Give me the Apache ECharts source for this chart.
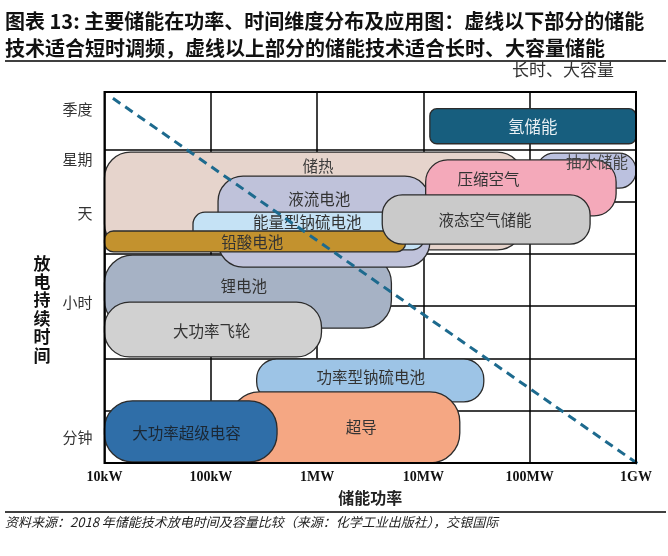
<!DOCTYPE html>
<html>
<head>
<meta charset="utf-8">
<script src="https://cdn.jsdelivr.net/npm/echarts@6/dist/echarts.min.js"></script>
<style>
  html, body { margin: 0; padding: 0; background: #fff; }
  #main { width: 668px; height: 556px; }
</style>
</head>
<body>
<div id="main"></div>
<script>
// power axis (W)
var powerTicks = [1e4, 1e5, 1e6, 1e7, 1e8, 1e9];
var powerLabels = ['10kW', '100kW', '1MW', '10MW', '100MW', '1GW'];

// duration axis: row boundaries and the label marks
var durationRows = [1, 2, 3, 4, 5, 6];
var durationLabels = ['分钟', '小时', '天', '星期', '季度'];
var durationLabelPos = [0.5, 3.08, 4.78, 5.82, 6.76];

// technologies, back to front
var techNames = ['储热', '锂电池', '液流电池', '能量型钠硫电池', '铅酸电池', '抽水储能', '压缩空气',
  '液态空气储能', '氢储能', '大功率飞轮', '功率型钠硫电池', '超导', '大功率超级电容'];
var powerMin = [1e4, 1e4, 1.17e5, 6.8e4, 1e4, 1.17e8, 1.05e7, 4.1e6, 1.15e7, 1e4, 2.7e5, 1.5e5, 1e4];
var powerMax = [8.7e7, 5.0e6, 1.15e7, 1.02e7, 6.8e6, 1e9, 6.5e8, 3.7e8, 1e9, 1.1e6, 3.7e7, 2.2e7, 4.2e5];
var durMin = [4.08, 2.58, 3.75, 4.08, 4.04, 5.26, 4.73, 4.19, 6.11, 2.03, 1.17, 0, 0.02];
var durMax = [5.95, 3.98, 5.49, 4.80, 4.44, 5.93, 5.80, 5.13, 6.78, 3.08, 1.99, 1.36, 1.19];
// where each name is written
var labelPower = [1.02e6, 2.04e5, 1.05e6, 8.1e5, 2.45e5, 4.3e8, 4.1e7, 3.8e7, 1.07e8, 1.02e5, 3.2e6, 2.6e6, 5.9e4];
var labelDur = [5.68, 3.39, 5.05, 4.61, 4.23, 5.76, 5.44, 4.65, 6.43, 2.53, 1.65, 0.69, 0.57];

// dashed divider
var dividerPower = [1.2e4, 1.1e9];
var dividerDur = [6.98, -0.05];

// styles
var boxColors = ['#E6D4CC', '#A6B2C5', '#BFC2DA', '#C5E2F5', '#C3922E', '#BBC1DF', '#F4A9BA',
  '#CACACA', '#175E7E', '#D1D1D1', '#9DC4E6', '#F5A783', '#2F6EA8'];
var boxRadius = [26, 28, 25, 12, 9, 17, 22, 20, 7, 25, 20, 30, 28];
var textColors = ['#3a3a3a', '#333', '#333', '#333', '#333', '#444', '#333', '#333', '#E8EFF3', '#333', '#333', '#333', '#1B2733'];

var cjk = '"Noto Sans CJK SC", sans-serif';

function renderBox(params, api) {
  var i = api.value(4);
  var p0 = api.coord([api.value(0), api.value(3)]);
  var p1 = api.coord([api.value(1), api.value(2)]);
  return {
    type: 'rect',
    shape: { x: p0[0], y: p0[1], width: p1[0] - p0[0], height: p1[1] - p0[1], r: boxRadius[i] },
    style: { fill: boxColors[i], stroke: '#2b2b2b', lineWidth: 1.3 }
  };
}

function renderName(params, api) {
  var i = api.value(2);
  var p = api.coord([api.value(0), api.value(1)]);
  return {
    type: 'text',
    x: p[0], y: p[1],
    style: {
      text: techNames[i], fill: textColors[i],
      fontSize: i === 8 ? 16.5 : 15.5, fontFamily: cjk,
      align: 'center', verticalAlign: 'middle'
    }
  };
}

var boxData = techNames.map(function (n, i) {
  return [powerMin[i], powerMax[i], durMin[i], durMax[i], i];
});
var nameData = techNames.map(function (n, i) {
  return [labelPower[i], labelDur[i], i];
});

var chart = echarts.init(document.getElementById('main'));
chart.setOption({
  animation: false,
  grid: { left: 104.5, right: 32, top: 92, bottom: 93, show: true, z: 5,
    borderColor: '#000', borderWidth: 2, backgroundColor: 'transparent' },
  xAxis: {
    type: 'log', logBase: 10, min: 1e4, max: 1e9,
    axisLine: { show: false }, axisTick: { show: false },
    splitLine: { show: true, lineStyle: { color: '#000', width: 1.5 } },
    axisLabel: {
      margin: 7, fontFamily: '"Liberation Serif", serif', fontWeight: 'bold', fontSize: 14, color: '#111',
      formatter: function (v) { return powerLabels[Math.round(Math.log10(v)) - 4]; }
    },
    name: '储能功率', nameLocation: 'middle', nameGap: 27,
    nameTextStyle: { fontFamily: cjk, fontSize: 16, fontWeight: 'bold', color: '#222' }
  },
  yAxis: {
    type: 'value', min: 0, max: 7.1,
    axisLine: { show: false }, axisTick: { show: false }, splitLine: { show: false },
    axisLabel: {
      customValues: durationLabelPos, margin: 12, fontFamily: cjk, fontSize: 15, color: '#333',
      formatter: function (v) {
        var best = 0;
        durationLabelPos.forEach(function (p, k) {
          if (Math.abs(p - v) < Math.abs(durationLabelPos[best] - v)) best = k;
        });
        return durationLabels[best];
      }
    }
  },
  series: [
    {
      type: 'line', data: [], z: 1,
      markLine: {
        z: 1, silent: true, symbol: 'none', label: { show: false },
        lineStyle: { color: '#000', width: 1.5, type: 'solid' },
        data: durationRows.map(function (v) { return { yAxis: v }; })
      }
    },
    {
      type: 'custom', renderItem: renderBox, data: boxData, z: 2,
      encode: { x: [0, 1], y: [2, 3] }
    },
    {
      type: 'custom', renderItem: renderName, data: nameData, z: 3,
      encode: { x: 0, y: 1 }
    },
    {
      type: 'line', z: 4, clip: false, symbol: 'none',
      data: dividerPower.map(function (p, k) { return [p, dividerDur[k]]; }),
      lineStyle: { color: '#1D6A8E', width: 3, type: [9, 6] }
    }
  ],
  graphic: [
    {
      type: 'text', left: 5, top: 8,
      style: {
        text: '图表 13: 主要储能在功率、时间维度分布及应用图：虚线以下部分的储能\n技术适合短时调频，虚线以上部分的储能技术适合长时、大容量储能',
        fontFamily: cjk, fontWeight: 'bold', fontSize: 20, lineHeight: 27, fill: '#111'
      }
    },
    { type: 'line', shape: { x1: 5, y1: 61, x2: 666, y2: 61 }, style: { stroke: '#000', lineWidth: 1.5 } },
    {
      type: 'text', left: 512, top: 61,
      style: { text: '长时、大容量', fontFamily: cjk, fontSize: 17, fill: '#333' }
    },
    {
      type: 'text', x: 42, y: 254,
      style: {
        text: '放\n电\n持\n续\n时\n间', fontFamily: cjk, fontWeight: 'bold', fontSize: 17,
        lineHeight: 18.4, fill: '#111', align: 'center', verticalAlign: 'top'
      }
    },
    { type: 'line', shape: { x1: 5, y1: 512, x2: 666, y2: 512 }, style: { stroke: '#000', lineWidth: 1.5 } },
    {
      type: 'text', left: 5, top: 516,
      style: {
        text: '资料来源：2018 年储能技术放电时间及容量比较（来源：化学工业出版社），交银国际',
        fontFamily: cjk, fontStyle: 'italic', fontSize: 13, fill: '#222'
      }
    }
  ]
});
</script>
</body>
</html>
